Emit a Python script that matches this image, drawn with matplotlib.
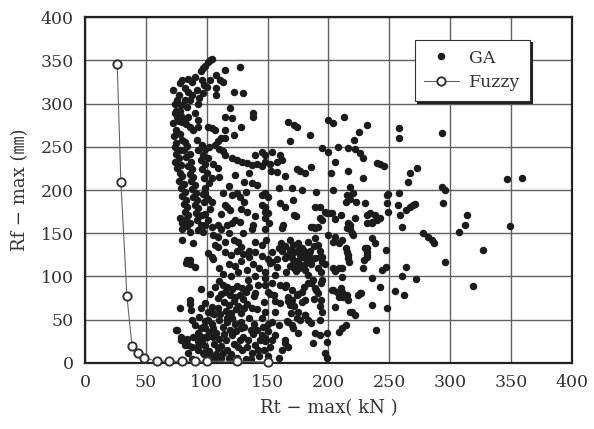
import matplotlib.pyplot as plt

plt.rcParams['font.family'] = ['DejaVu Serif', 'Noto Sans CJK JP']

# Fuzzy result (Rt-max, Rf-max)
fuzzy_rt = [26.5, 29.5, 34.5, 38.6, 43.7, 48.5, 59, 69, 80, 90, 100, 125, 150]
fuzzy_rf = [346, 209, 77, 20, 11, 6, 2, 2, 2, 2, 2, 2, 1]

# GA results, grouped by area of the plot
ga_column_top = [
    (104, 352), (101, 348), (99, 344), (97, 341), (95, 338), (103, 350), (127, 342), (115, 339),
    (108, 333), (111, 327), (113, 325), (103, 327), (100, 319), (97, 312), (94, 306), (93, 300),
    (108, 318), (108, 310), (122, 313), (130, 312), (85, 329), (80, 327), (88, 325), (90, 331),
    (78, 324), (72, 316), (82, 318), (85, 313), (76, 304), (82, 304), (86, 304), (75, 292),
    (76, 284), (80, 279), (82, 281), (86, 273), (89, 269), (72, 277), (75, 270), (78, 265),
    (73, 262), (80, 258), (90, 289), (93, 281), (93, 273), (101, 273), (107, 269), (115, 269),
    (122, 264), (119, 295), (115, 284), (121, 283), (128, 273), (138, 289), (138, 285), (115, 260),
    (112, 260), (109, 257), (104, 272), (98, 322), (96, 327), (92, 316), (88, 310), (79, 298),
    (84, 296), (77, 310), (74, 300), (77, 280), (79, 286), (74, 289), (83, 276), (85, 285),
    (78, 292),
]

ga_column = [
    (75, 255), (74, 250), (78, 246), (75, 242), (77, 237), (74, 233), (79, 229), (76, 225),
    (78, 220), (80, 216), (77, 211), (81, 207), (79, 202), (82, 198), (80, 193), (83, 189),
    (81, 184), (84, 180), (82, 175), (85, 171), (83, 166), (86, 162), (84, 158), (80, 162),
    (78, 168), (82, 256), (84, 251), (81, 246), (86, 242), (83, 238), (87, 233), (85, 228),
    (88, 224), (86, 219), (89, 215), (87, 210), (90, 206), (88, 201), (91, 197), (89, 192),
    (92, 188), (90, 183), (93, 179), (91, 174), (94, 170), (92, 165), (92, 258), (96, 252),
    (93, 246), (97, 241), (95, 235), (99, 230), (96, 224), (100, 220), (98, 214), (102, 208),
    (99, 202), (97, 196), (101, 190), (98, 186), (103, 178), (99, 172), (95, 160), (101, 165),
    (104, 157), (102, 250), (101, 237), (99, 248), (80, 155), (86, 152),
]

ga_mid_left = [
    (107, 252), (110, 248), (115, 240), (113, 245), (121, 237), (125, 235), (129, 233), (133, 231),
    (137, 229), (141, 230), (145, 228), (148, 233), (148, 240), (152, 230), (140, 240), (145, 244),
    (123, 217), (109, 225), (104, 214), (131, 209), (137, 208), (141, 206), (145, 194), (113, 197),
    (121, 194), (125, 197), (127, 192), (99, 197), (100, 191), (115, 183), (117, 180), (119, 177),
    (131, 186), (133, 175), (123, 165), (121, 162), (117, 160), (109, 160), (96, 171), (99, 160),
    (93, 154), (97, 151), (127, 163), (145, 183), (148, 175), (148, 168), (107, 136), (109, 134),
    (115, 140), (122, 142), (126, 140), (128, 134), (135, 130), (140, 140), (145, 136), (105, 148),
    (109, 146), (115, 128), (120, 125), (125, 130), (130, 126), (135, 122), (140, 128), (145, 124),
    (150, 120), (118, 115), (123, 112), (128, 118), (133, 108), (138, 114), (143, 110), (148, 105),
    (152, 116), (113, 103), (120, 100), (126, 105), (140, 100), (101, 127), (105, 120), (110, 110),
    (104, 123), (80, 142), (89, 139), (84, 119), (86, 115), (90, 111), (83, 116), (86, 119),
    (112, 155), (130, 150), (137, 155), (118, 205), (110, 215), (135, 220), (105, 230), (132, 198),
    (112, 172), (140, 170), (128, 178), (138, 160), (104, 186), (118, 150),
]

ga_lower_left = [
    (107, 88), (113, 90), (117, 88), (121, 86), (125, 89), (129, 87), (115, 82), (119, 79),
    (123, 76), (127, 79), (130, 74), (114, 70), (118, 67), (122, 72), (126, 66), (131, 63),
    (116, 60), (120, 58), (124, 62), (128, 58), (133, 68), (140, 81), (139, 77), (137, 64),
    (141, 62), (78, 64), (86, 73), (86, 68), (87, 61), (99, 69), (101, 59), (106, 57),
    (109, 64), (76, 38), (79, 30), (84, 28), (93, 35), (93, 25), (93, 15), (99, 49),
    (99, 40), (99, 30), (99, 20), (99, 12), (104, 45), (105, 30), (106, 22), (109, 17),
    (112, 20), (117, 15), (116, 27), (121, 32), (124, 37), (127, 27), (129, 15), (133, 19),
    (137, 11), (140, 21), (144, 27), (147, 15), (113, 42), (117, 47), (121, 52), (128, 47),
    (131, 42), (136, 38), (141, 38), (146, 42), (150, 37), (113, 11), (107, 4), (125, 6),
    (88, 50), (94, 53), (75, 38), (79, 27), (82, 21), (94, 32), (93, 20), (97, 11),
    (100, 30), (90, 44), (145, 52), (135, 52), (110, 95), (103, 80), (95, 85), (142, 90),
    (134, 96), (147, 70), (103, 8), (118, 6), (132, 5), (143, 8), (85, 12), (88, 5),
    (95, 40), (97, 42), (96, 25), (98, 10), (102, 36), (105, 40), (108, 35), (110, 28),
    (114, 33), (119, 38), (122, 22), (126, 18), (130, 30), (134, 27), (138, 33), (142, 15),
    (145, 32), (139, 45), (110, 50), (104, 58), (85, 21), (112, 6), (120, 10), (136, 4),
    (128, 40), (123, 45), (117, 52), (109, 75), (112, 80), (132, 82), (135, 88), (111, 57),
    (104, 65), (95, 63), (101, 50), (89, 30), (88, 18), (102, 14), (108, 10),
]

ga_center = [
    (167, 279), (172, 275), (174, 273), (185, 264), (168, 257), (200, 281), (204, 277), (213, 284),
    (232, 275), (225, 267), (221, 258), (195, 249), (200, 244), (208, 250), (216, 249), (222, 247),
    (226, 243), (228, 237), (205, 232), (216, 222), (202, 220), (228, 214), (154, 244), (160, 240),
    (162, 235), (158, 232), (174, 224), (177, 222), (181, 220), (186, 227), (164, 216), (153, 222),
    (158, 221), (159, 202), (170, 202), (178, 200), (190, 198), (204, 200), (218, 203), (215, 194),
    (220, 197), (223, 186), (171, 188), (160, 185), (164, 180), (193, 180), (197, 175), (201, 173),
    (173, 170), (193, 168), (195, 165), (205, 166), (210, 171), (186, 157), (191, 157), (163, 160),
    (151, 162), (218, 160), (232, 171), (236, 162), (148, 180), (150, 174), (189, 180), (199, 173),
    (230, 185), (234, 173), (148, 197), (150, 192), (172, 171), (203, 173), (218, 190), (214, 186),
    (222, 168), (216, 162), (218, 155), (219, 150), (211, 142), (204, 140), (209, 139), (162, 156),
    (187, 157), (189, 156), (215, 156), (200, 148), (205, 146), (220, 148), (183, 140), (175, 139),
    (168, 142), (159, 133), (154, 128), (149, 142), (148, 155), (236, 145), (238, 139),
    (164, 135), (168, 131), (172, 128), (176, 132), (180, 129), (184, 126), (166, 124), (170, 121),
    (174, 118), (178, 122), (182, 118), (186, 115), (168, 112), (176, 110), (180, 113), (189, 145),
    (191, 137), (193, 130), (195, 122), (197, 115), (204, 110), (211, 110), (214, 133), (216, 125),
    (217, 117), (230, 133), (232, 128), (232, 123), (229, 119), (228, 110), (215, 128), (216, 121),
    (211, 99), (236, 98), (172, 110), (175, 117), (179, 123), (183, 123), (164, 121), (167, 125),
    (170, 113), (154, 117), (158, 111), (156, 102), (148, 98), (189, 121), (191, 110), (194, 105),
    (178, 133), (179, 127), (182, 123), (186, 119), (193, 123), (195, 117), (195, 96), (194, 92),
    (209, 110), (205, 106), (154, 92), (160, 90), (164, 88), (150, 82), (155, 79), (167, 76),
    (170, 73), (174, 79), (160, 69), (168, 67), (178, 82), (181, 73), (183, 92), (187, 96),
    (189, 87), (191, 81), (194, 73), (175, 59), (181, 55), (183, 50), (156, 59), (154, 47),
    (159, 44), (167, 47), (170, 44), (148, 59), (150, 45), (148, 90), (152, 80), (156, 72),
    (165, 90), (170, 84), (175, 80), (180, 88), (167, 72), (172, 66), (178, 70), (169, 58),
    (174, 52), (181, 56), (166, 48), (183, 102), (186, 92), (190, 84), (188, 74), (193, 66),
    (195, 59), (203, 84), (207, 82), (209, 76), (215, 79), (227, 81), (205, 65), (218, 59),
    (222, 55), (236, 67), (214, 44), (211, 40), (209, 36), (189, 35), (193, 32), (187, 23),
    (197, 12), (199, 6), (159, 6), (164, 27), (167, 18), (162, 15), (156, 32), (154, 27),
    (148, 25), (148, 29), (152, 18), (150, 8), (199, 35), (199, 24), (186, 46), (193, 50),
    (177, 50), (171, 40), (175, 35), (164, 23), (204, 84), (211, 82), (212, 76), (216, 73),
    (219, 59), (239, 38), (226, 81), (224, 79), (210, 87),
    (171, 136), (177, 125), (185, 130), (162, 130), (188, 135), (173, 106), (181, 108), (165, 105),
    (158, 120), (161, 139),
]

ga_right = [
    (258, 272), (258, 260), (293, 266), (240, 231), (242, 230), (246, 228), (273, 225), (267, 220),
    (265, 209), (347, 213), (359, 214), (293, 204), (296, 200), (249, 195), (258, 197), (248, 194),
    (248, 185), (249, 175), (257, 183), (259, 171), (260, 157), (264, 177), (267, 180), (269, 183),
    (271, 184), (294, 185), (314, 171), (312, 160), (307, 152), (349, 158), (278, 150), (282, 146),
    (285, 142), (287, 139), (327, 131), (296, 117), (319, 89), (247, 131), (264, 111), (260, 101),
    (272, 97), (255, 83), (262, 79), (248, 64), (242, 88), (244, 108), (232, 162), (236, 163),
    (240, 165), (242, 168), (238, 171), (232, 133), (232, 125), (247, 111),
]

ga_points = ga_column_top + ga_column + ga_mid_left + ga_lower_left + ga_center + ga_right
ga_rt = [p[0] for p in ga_points]
ga_rf = [p[1] for p in ga_points]

fig = plt.figure(figsize=(5.94, 4.29), dpi=100)
ax = fig.add_axes([0.143, 0.154, 0.820, 0.806])

ax.plot(ga_rt, ga_rf, 'o', color='#1c1c1c', ms=5.4, mew=0, label='GA', zorder=3)
ax.plot(fuzzy_rt, fuzzy_rf, '-o', color='#666666', lw=0.8, ms=6, mfc='white',
        mec='#333333', mew=1.4, label='Fuzzy', zorder=4, clip_on=False)

ax.set_xlim(0, 400)
ax.set_ylim(0, 400)
ax.set_xticks(range(0, 401, 50))
ax.set_yticks(range(0, 401, 50))
ax.grid(True, color='#606060', lw=1.0)
ax.set_axisbelow(True)
ax.tick_params(length=0, pad=8, labelsize=12.5, colors='#333333')
for s in ax.spines.values():
    s.set_linewidth(1.6)
    s.set_color('#222222')

ax.set_xlabel('Rt − max( kN )', fontsize=13, color='#333333', labelpad=6)
ax.set_ylabel('Rf − max (㎜)', fontsize=13, color='#333333', labelpad=8)

leg = ax.legend(loc='upper right', bbox_to_anchor=(0.914, 0.934), borderaxespad=0,
                fontsize=12.5, fancybox=False, framealpha=1, edgecolor='#333333',
                shadow={'color': '#222222', 'alpha': 1, 'ox': 1.6, 'oy': -1.6},
                handlelength=2.0, handletextpad=0.6, borderpad=0.55, labelspacing=0.45)
leg.get_frame().set_linewidth(0.8)
for t in leg.get_texts():
    t.set_color('#333333')

fig.savefig('out.png', dpi=100, facecolor='white')
